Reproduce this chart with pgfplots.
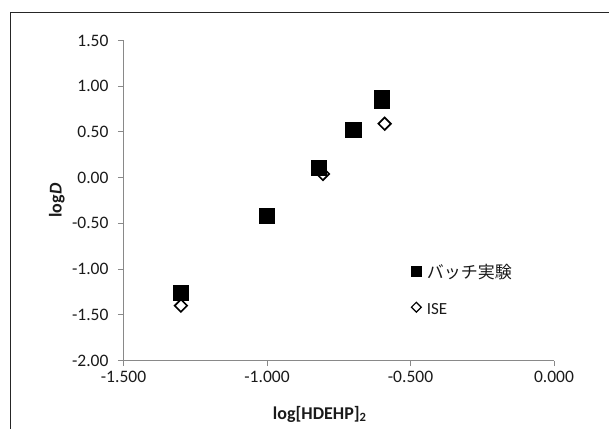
\documentclass[border=0pt]{standalone}
\usepackage{pgfplots}
\pgfplotsset{compat=1.18}
\usepackage{fontspec}
\setmainfont{Carlito}
\newfontfamily\jp{Noto Sans CJK JP}
\definecolor{axgray}{HTML}{898989}
\definecolor{txt}{HTML}{1A1A1A}
\begin{document}
\begin{tikzpicture}
\useasboundingbox (-123.5pt,-67.5pt) rectangle (485.5pt,360.5pt);
\draw[line width=1.1pt, color=black!85] (-112.8pt,-90pt) -- (-112.8pt,348.2pt) -- (520pt,348.2pt);
\begin{axis}[
  scale only axis, width=430.5pt, height=320pt,
  xmin=-1.5, xmax=0, ymin=-2, ymax=1.5,
  xtick={-1.5,-1,-0.5,0}, ytick={-2,-1.5,-1,-0.5,0,0.5,1,1.5},
  axis x line*=bottom, axis y line*=left,
  axis line style={color=axgray, line width=0.9pt},
  every tick/.style={color=axgray, line width=0.9pt},
  tick align=outside, major tick length=5.5pt,
  /pgf/number format/assume math mode=true,
  ticklabel style={font=\fontsize{17.5}{20}\selectfont, text=txt},
  xticklabel={\pgfmathprintnumber[fixed, fixed zerofill, precision=3]{\tick}},
  yticklabel={\pgfmathprintnumber[fixed, fixed zerofill, precision=2]{\tick}},
  xticklabel style={yshift=-2pt},
  yticklabel style={xshift=-6pt},
  xlabel={\textbf{log[HDEHP]\textsubscript{2}}},
  ylabel={\textbf{log\textit{D}}},
  label style={font=\fontsize{18}{21}\selectfont, text=txt},
  xlabel style={at={(axis description cs:0.456,-0.184)}, anchor=base},
  ylabel style={at={(axis description cs:-0.155,0.5)}, anchor=center},
  legend style={at={(rel axis cs:0.667,0.215)}, anchor=west, draw=none, fill=none,
    inner sep=0pt, row sep=19pt, column sep=0pt,
    nodes={inner sep=0pt, text height=12pt, text depth=4pt, font=\fontsize{17}{20}\selectfont, text=txt}},
  legend cell align=left,
  legend image code/.code={\path[draw=none,fill=none] (0pt,-2pt) rectangle (16pt,9pt); \draw[#1] plot coordinates {(5.5pt,3pt)};},
]
\addlegendimage{only marks, mark=square*, mark size=5pt, mark options={fill=black, draw=black, line width=0.3pt}}
\addlegendentry{{\jp バッチ実験}}
\addlegendimage{only marks, mark=square, mark size=3.5pt, mark options={rotate=45, draw=black, line width=1.2pt}}
\addlegendentry{ISE}
\addplot[forget plot, only marks, mark=square*, mark size=7.6pt, mark options={fill=black, draw=black, line width=0.3pt}]
  coordinates {(-1.30,-1.26) (-1.00,-0.42) (-0.82,0.11) (-0.70,0.525) (-0.60,0.87) (-0.60,0.84)};
\addplot[forget plot, only marks, mark=square, mark size=4.4pt, mark options={rotate=45, draw=black, line width=1.7pt}]
  coordinates {(-1.30,-1.40) (-0.805,0.04) (-0.59,0.59)};
\end{axis}
\end{tikzpicture}
\end{document}
